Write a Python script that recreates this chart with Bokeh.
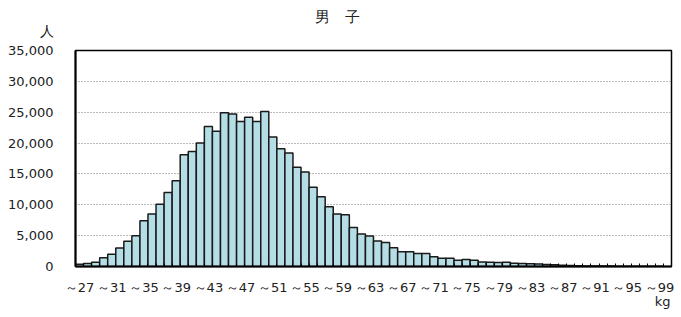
from bokeh.plotting import figure
from bokeh.models import Range1d, FixedTicker, Title, NumeralTickFormatter
from bokeh.embed import file_html
from bokeh.resources import INLINE

# weights (kg upper bound of each class) and counts (persons)
weights = list(range(27, 100))
counts = [350, 500, 700, 1400, 2000, 3000, 4100, 5000, 7400, 8500,
          10100, 12000, 13900, 18100, 18650, 20000, 22700, 21900, 24900, 24700,
          23500, 24200, 23500, 25100, 21000, 19100, 18400, 16100, 15300, 12850,
          11300, 9700, 8500, 8400, 6300, 5250, 4950, 4150, 3900, 3050,
          2400, 2400, 2100, 2100, 1600, 1330, 1330, 1000, 1150, 1000,
          730, 700, 650, 700, 520, 480, 430, 400, 330, 280,
          200, 150, 120, 100, 90, 80, 70, 60, 50, 40,
          40, 30, 30]
tick_labels = {i: "～" + str(w) for i, w in enumerate(weights) if (w - 27) % 4 == 0}
y_ticks = [0, 5000, 10000, 15000, 20000, 25000, 30000, 35000]

FONT = "DejaVu Sans"
n_slots = len(weights) + 1

p = figure(width=681, height=317, output_backend="svg", toolbar_location=None,
           x_range=Range1d(-0.5, n_slots - 0.5), y_range=Range1d(0, 35000),
           min_border_left=75, min_border_right=10, min_border_top=50, min_border_bottom=51)
p.background_fill_color = "white"
p.border_fill_color = "white"
p.outline_line_color = "black"
p.outline_line_width = 1.5

xs = list(range(len(weights)))
p.vbar(x=xs, top=counts, width=1.0, bottom=0, fill_color="#b4dde6",
       line_color="#1a1a1a", line_width=1.5)

# x axis
p.xaxis.ticker = FixedTicker(ticks=list(tick_labels.keys()),
                             minor_ticks=[i - 0.5 for i in range(1, n_slots)])
p.xaxis.major_label_overrides = tick_labels
p.xaxis.major_tick_in = 0
p.xaxis.major_tick_out = 0
p.xaxis.minor_tick_in = 3
p.xaxis.minor_tick_out = 0
p.xaxis.minor_tick_line_color = "black"
p.xaxis.axis_line_width = 2
p.xaxis.axis_line_color = "black"
p.xaxis.major_label_standoff = 13
p.xaxis.major_label_text_font = FONT
p.xaxis.major_label_text_font_size = "13px"
p.xaxis.major_label_text_color = "#222222"

# y axis
p.yaxis.ticker = FixedTicker(ticks=y_ticks)
p.yaxis.formatter = NumeralTickFormatter(format="0,0")
p.yaxis.major_tick_in = 0
p.yaxis.major_tick_out = 0
p.yaxis.minor_tick_line_color = None
p.yaxis.axis_line_width = 2
p.yaxis.axis_line_color = "black"
p.yaxis.major_label_standoff = 22
p.yaxis.major_label_text_font = FONT
p.yaxis.major_label_text_font_size = "13px"
p.yaxis.major_label_text_color = "#222222"

p.xgrid.grid_line_color = None
p.ygrid.ticker = FixedTicker(ticks=y_ticks[1:-1])
p.ygrid.grid_line_color = "#777777"
p.ygrid.grid_line_dash = "1 2"
p.ygrid.grid_line_width = 1

p.title.text = "男　子"
p.title.align = "left"
p.title.offset = 239
p.title.text_font = FONT
p.title.text_font_size = "15px"
p.title.text_font_style = "normal"
p.title.text_color = "#222222"
p.title.standoff = -32

p.add_layout(Title(text="人", align="left", offset=-36, text_font=FONT,
                   text_font_size="14px", text_font_style="normal",
                   text_color="#222222", standoff=23), "above")
p.add_layout(Title(text="kg", align="right", offset=1, text_font=FONT,
                   text_font_size="13px", text_font_style="normal",
                   text_color="#222222", standoff=-12), "below")

open("out.html", "w").write(file_html(p, INLINE))
